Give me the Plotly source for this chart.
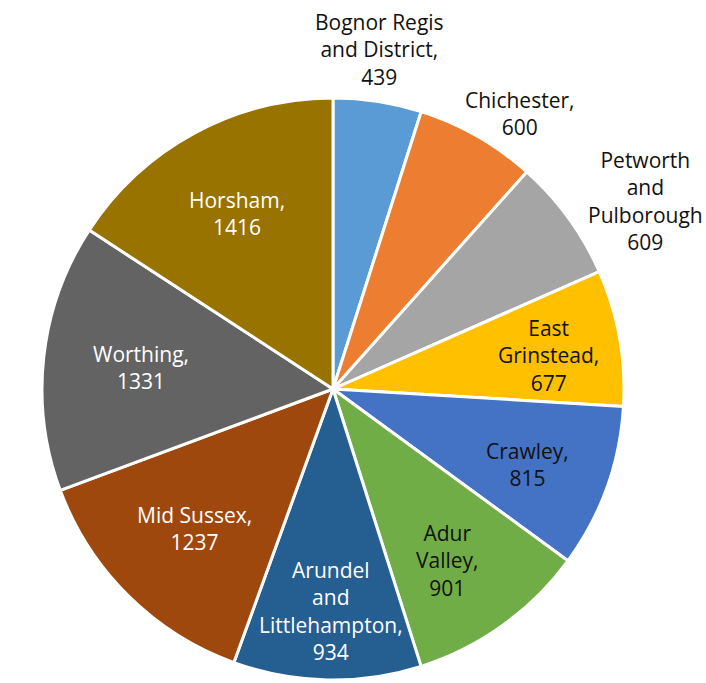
import plotly.graph_objects as go

W, H = 706, 683

categories = ["Bognor Regis and District", "Chichester", "Petworth and Pulborough",
              "East Grinstead", "Crawley", "Adur Valley", "Arundel and Littlehampton",
              "Mid Sussex", "Worthing", "Horsham"]
values = [439, 600, 609, 677, 815, 901, 934, 1237, 1331, 1416]
label_lines = [["Bognor Regis", "and District,"], ["Chichester,"], ["Petworth", "and", "Pulborough"],
               ["East", "Grinstead,"], ["Crawley,"], ["Adur", "Valley,"],
               ["Arundel", "and", "Littlehampton,"], ["Mid Sussex,"], ["Worthing,"], ["Horsham,"]]
colors = ["#5B9BD5", "#ED7D31", "#A5A5A5", "#FFC000", "#4472C4", "#70AD47",
          "#255E91", "#9E480E", "#636363", "#997300"]
text_colors = ["#111111"] * 6 + ["#FFFFFF"] * 4
# label centres in pixels (x from left, y from top)
label_px = [(380, 49), (519, 113), (645, 201), (548, 355), (527, 464),
            (447, 560), (331, 611), (194, 528), (141, 367), (237, 213)]

cx, cy, r = 333, 389, 291

fig = go.Figure(go.Pie(
    labels=categories, values=values, sort=False, direction="clockwise", rotation=0,
    marker=dict(colors=colors, line=dict(color="white", width=3)),
    textinfo="none", hoverinfo="label+value", showlegend=False,
    domain=dict(x=[(cx - r) / W, (cx + r) / W], y=[(H - cy - r) / H, (H - cy + r) / H]),
))

for lines, v, (px, py), tc in zip(label_lines, values, label_px, text_colors):
    fig.add_annotation(
        text="<br>".join(lines + [str(v)]), x=px / W, y=1 - py / H,
        xref="paper", yref="paper", xanchor="center", yanchor="middle",
        showarrow=False, align="center",
        font=dict(family="Open Sans, sans-serif", size=21, color=tc),
    )

fig.update_layout(width=W, height=H, margin=dict(l=0, r=0, t=0, b=0),
                  paper_bgcolor="white", plot_bgcolor="white")
fig.write_html("out.html", config={"displayModeBar": False},
               post_script="document.body.style.margin='0';document.body.style.overflow='hidden';")
